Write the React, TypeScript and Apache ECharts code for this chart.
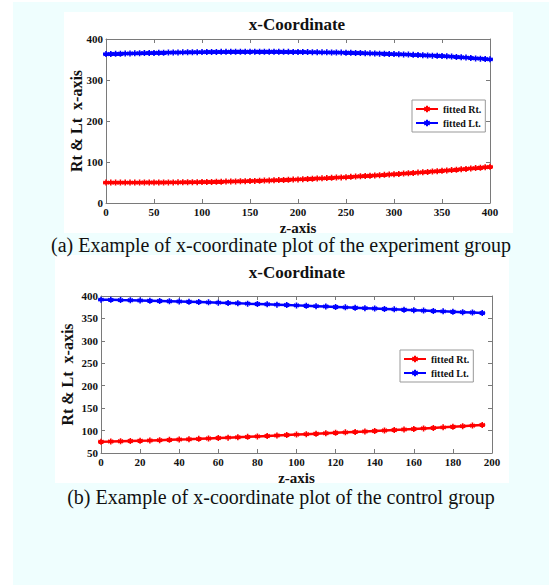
import React, { useEffect, useRef } from "react";
import * as echarts from "echarts";

// ---------- Data ----------
const zA = [0,5,10,15,20,25,30,35,40,45,50,55,60,65,70,75,80,85,90,95,100,105,110,115,120,125,130,135,140,145,150,155,160,165,170,175,180,185,190,195,200,205,210,215,220,225,230,235,240,245,250,255,260,265,270,275,280,285,290,295,300,305,310,315,320,325,330,335,340,345,350,355,360,365,370,375,380,385,390,395,400];
const rtA = [49.8,49.8,49.8,49.8,49.8,49.8,49.8,49.8,49.9,49.9,50.0,50.0,50.1,50.2,50.3,50.4,50.5,50.6,50.8,50.9,51.1,51.3,51.5,51.7,51.9,52.2,52.4,52.7,53.0,53.3,53.6,53.9,54.3,54.6,55.0,55.4,55.8,56.2,56.7,57.1,57.6,58.1,58.6,59.1,59.6,60.2,60.7,61.3,61.9,62.5,63.1,63.8,64.4,65.1,65.8,66.5,67.2,67.9,68.6,69.4,70.1,70.9,71.7,72.5,73.3,74.1,75.0,75.8,76.7,77.6,78.5,79.4,80.3,81.2,82.2,83.2,84.1,85.1,86.1,87.1,88.2];
const ltA = [363.2,363.5,363.8,364.1,364.4,364.7,365.0,365.3,365.6,365.8,366.1,366.3,366.6,366.8,367.0,367.2,367.4,367.6,367.8,367.9,368.1,368.2,368.4,368.5,368.6,368.7,368.8,368.8,368.9,368.9,369.0,369.0,369.0,368.9,368.9,368.8,368.8,368.7,368.6,368.5,368.3,368.2,368.0,367.9,367.7,367.5,367.4,367.2,367.0,366.8,366.6,366.3,366.0,365.7,365.4,365.0,364.6,364.3,363.9,363.6,363.2,362.8,362.4,361.9,361.4,360.9,360.4,359.9,359.4,359.0,358.5,357.8,357.1,356.3,355.5,354.6,353.7,352.7,352.0,351.2,350.4];

const zB = [0,5,10,15,20,25,30,35,40,45,50,55,60,65,70,75,80,85,90,95,100,105,110,115,120,125,130,135,140,145,150,155,160,165,170,175,180,185,190,195];
const rtB = [75.0,75.5,76.1,76.7,77.3,77.9,78.6,79.3,80.0,80.7,81.5,82.4,83.3,84.2,85.1,86.0,87.0,88.0,89.0,90.0,91.0,92.0,93.0,94.0,95.0,96.0,97.0,98.0,99.1,100.2,101.3,102.4,103.6,104.8,106.0,107.2,108.5,109.8,111.1,112.6];
const ltB = [391.8,391.4,390.9,390.5,390.0,389.5,389.0,388.4,387.8,387.2,386.6,385.9,385.2,384.5,383.8,383.0,382.3,381.5,380.7,379.9,379.1,378.3,377.4,376.5,375.6,374.7,373.8,372.9,372.0,371.1,370.2,369.3,368.4,367.5,366.6,365.8,364.9,364.0,363.1,362.2];

const seriesNames = ["fitted Rt.", "fitted Lt."];
const chartTitle = "x-Coordinate";
const xTitle = "z-axis";
const yTitle = "Rt & Lt  x-axis";
const captionA = "(a) Example of x-coordinate plot of the experiment group";
const captionB = "(b) Example of x-coordinate plot of the control group";

// ---------- Styles ----------
const SERIF = "'Liberation Serif', 'Times New Roman', serif";
const RED = "#ff0000";
const BLUE = "#0000ff";
const AXIS_GRAY = "#7a7a7a";
const STAR = "path://M5,0 L5,10 M0.67,2.5 L9.33,7.5 M0.67,7.5 L9.33,2.5 M0,5 L10,5";

const pairs = (xs: number[], ys: number[]) => xs.map((x, i) => [x, ys[i]]);

function mainAxis(gridIndex: number, min: number, max: number, interval: number, pos: string, name: string, nameGap: number, nameSize: number) {
  return {
    type: "value",
    gridIndex,
    min,
    max,
    interval,
    position: pos,
    name,
    nameLocation: "middle",
    nameGap,
    nameMoveOverlap: false,
    nameTextStyle: { fontFamily: SERIF, fontWeight: "bold", fontSize: nameSize, color: "#111" },
    axisLine: { show: true, onZero: false, lineStyle: { color: AXIS_GRAY, width: 1 } },
    axisTick: { show: true, inside: true, length: 4, lineStyle: { color: AXIS_GRAY } },
    axisLabel: { fontFamily: SERIF, fontWeight: "bold", fontSize: 11, color: "#111", margin: 3 },
    splitLine: { show: false },
  };
}

function sideAxis(gridIndex: number, min: number, max: number, interval: number, pos: string) {
  return {
    type: "value",
    gridIndex,
    min,
    max,
    interval,
    position: pos,
    axisLine: { show: true, onZero: false, lineStyle: { color: AXIS_GRAY, width: 1 } },
    axisTick: { show: true, inside: true, length: 4, lineStyle: { color: AXIS_GRAY } },
    axisLabel: { show: false },
    splitLine: { show: false },
  };
}

function lineSeries(name: string, color: string, data: number[][], xi: number, yi: number) {
  return {
    type: "line",
    name,
    xAxisIndex: xi,
    yAxisIndex: yi,
    data,
    symbol: STAR,
    symbolSize: 6,
    showSymbol: true,
    lineStyle: { color, width: 2.5 },
    itemStyle: { color, borderColor: color, borderWidth: 1.6 },
  };
}

function legendAt(left: number, top: number) {
  return {
    data: seriesNames,
    orient: "vertical",
    left,
    top,
    padding: [4, 4, 4, 3],
    itemWidth: 22,
    itemHeight: 8,
    itemGap: 4,
    borderColor: "#999",
    borderWidth: 1,
    backgroundColor: "#fff",
    textStyle: { fontFamily: SERIF, fontWeight: "bold", fontSize: 10, color: "#111" },
  };
}

export default function App() {
  const ref = useRef<HTMLDivElement>(null);
  useEffect(() => {
    if (!ref.current) return;
    const chart = echarts.init(ref.current, undefined, { renderer: "svg" });
    chart.setOption({
      animation: false,
      backgroundColor: "#ffffff",
      graphic: [
        { type: "rect", z: -10, silent: true, shape: { x: 13, y: 2, width: 536, height: 583 }, style: { fill: "#effefe" } },
        { type: "rect", z: -9, silent: true, shape: { x: 64, y: 12, width: 449, height: 221 }, style: { fill: "#ffffff" } },
        { type: "rect", z: -9, silent: true, shape: { x: 55, y: 255, width: 454, height: 228 }, style: { fill: "#ffffff" } },
        { type: "text", x: 281, y: 245, style: { text: captionA, fontFamily: SERIF, fontSize: 20, fill: "#111", align: "center", verticalAlign: "middle" } },
        { type: "text", x: 281, y: 497, style: { text: captionB, fontFamily: SERIF, fontSize: 20, fill: "#111", align: "center", verticalAlign: "middle" } },
      ],
      title: [
        { text: chartTitle, left: 297, top: 16, textAlign: "center", padding: 0, textStyle: { fontFamily: SERIF, fontWeight: "bold", fontSize: 17, color: "#111" } },
        { text: chartTitle, left: 297, top: 264, textAlign: "center", padding: 0, textStyle: { fontFamily: SERIF, fontWeight: "bold", fontSize: 17, color: "#111" } },
      ],
      legend: [legendAt(412, 100), legendAt(400, 350)],
      grid: [
        { left: 106, top: 39, width: 384, height: 164, containLabel: false },
        { left: 101, top: 296, width: 391, height: 157, containLabel: false },
      ],
      xAxis: [
        mainAxis(0, 0, 400, 50, "bottom", xTitle, 17, 15),
        sideAxis(0, 0, 400, 50, "top"),
        mainAxis(1, 0, 200, 20, "bottom", xTitle, 17, 15),
        sideAxis(1, 0, 200, 20, "top"),
      ],
      yAxis: [
        mainAxis(0, 0, 400, 100, "left", yTitle, 22, 16),
        sideAxis(0, 0, 400, 100, "right"),
        mainAxis(1, 50, 400, 50, "left", yTitle, 26, 16),
        sideAxis(1, 50, 400, 50, "right"),
      ],
      series: [
        lineSeries(seriesNames[0], RED, pairs(zA, rtA), 0, 0),
        lineSeries(seriesNames[1], BLUE, pairs(zA, ltA), 0, 0),
        lineSeries(seriesNames[0], RED, pairs(zB, rtB), 2, 2),
        lineSeries(seriesNames[1], BLUE, pairs(zB, ltB), 2, 2),
      ],
    });
    return () => chart.dispose();
  }, []);
  return <div ref={ref} style={{ position: "absolute", left: 0, top: 0, width: 549, height: 587 }} />;
}
